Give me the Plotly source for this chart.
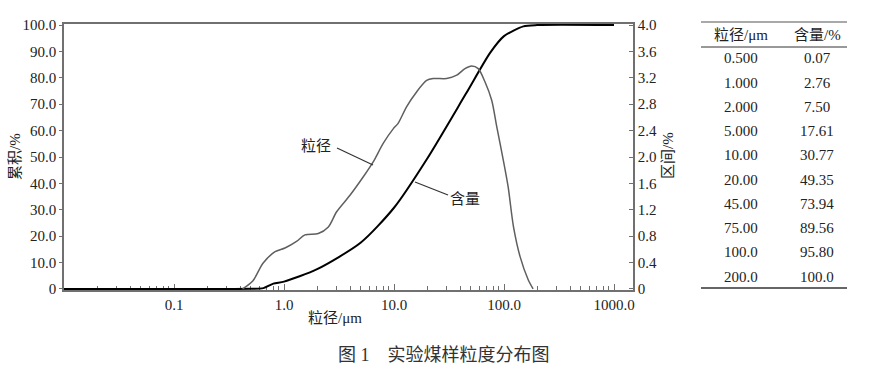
import plotly.graph_objects as go

# ---- data ----
# interval distribution (区间/%, right axis) – gray curve
interval_size = [0.42, 0.52, 0.644, 0.83, 1.02, 1.30, 1.55, 2.05, 2.53, 3.01, 3.98, 5.26,
                 6.49, 8.0, 9.87, 10.9, 13.0, 16.1, 19.8, 22.7, 30.1, 37.2, 44.2, 50.8,
                 58.3, 67.1, 77.3, 85.9, 98.6, 109, 122, 140, 166, 184]
interval_val = [0, 0.12, 0.39, 0.565, 0.62, 0.72, 0.82, 0.84, 0.94, 1.17, 1.42, 1.70,
                1.93, 2.21, 2.43, 2.51, 2.76, 2.99, 3.16, 3.19, 3.19, 3.24, 3.34, 3.38,
                3.34, 3.14, 2.86, 2.46, 1.95, 1.55, 0.94, 0.49, 0.14, 0]

# cumulative content (累积/%, left axis) – black curve
cum_size = [0.01, 0.5, 0.65, 0.8, 1.0, 2.0, 5.0, 10.0, 20.0, 45.0, 75.0, 100.0, 150.0, 200.0, 1000.0]
cum_val = [0, 0.07, 0.3, 2.0, 2.76, 7.5, 17.61, 30.77, 49.35, 73.94, 89.56, 95.8, 99.5, 100.0, 100.0]

# table on the right
table_size = ["0.500", "1.000", "2.000", "5.000", "10.00", "20.00", "45.00", "75.00", "100.0", "200.0"]
table_content = ["0.07", "2.76", "7.50", "17.61", "30.77", "49.35", "73.94", "89.56", "95.80", "100.0"]

x_tickvals = [0.1, 1, 10, 100, 1000]
x_ticktext = ["0.1", "1.0", "10.0", "100.0", "1000.0"]
y_tickvals = [0, 10, 20, 30, 40, 50, 60, 70, 80, 90, 100]
y_ticktext = ["0", "10.0", "20.0", "30.0", "40.0", "50.0", "60.0", "70.0", "80.0", "90.0", "100.0"]
y2_tickvals = [0, 0.4, 0.8, 1.2, 1.6, 2.0, 2.4, 2.8, 3.2, 3.6, 4.0]
y2_ticktext = ["0", "0.4", "0.8", "1.2", "1.6", "2.0", "2.4", "2.8", "3.2", "3.6", "4.0"]

SERIF = "Liberation Serif, Times New Roman, serif"
CJK = "Liberation Serif, Noto Sans CJK SC"
AXC = "#707070"
TXT = "#222222"

# pixel geometry helpers (plot area 64..633 x, 24..290 y)
L, R, T, B = 64, 633, 24, 290
W, H = R - L, B - T


def px(x):
    return (x - L) / W


def py(y):
    return (B - y) / H


minor_vals = [m * 10 ** e for e in range(-2, 3) for m in range(2, 10)]

fig = go.Figure()
fig.add_trace(go.Scatter(x=interval_size, y=interval_val, yaxis="y2", mode="lines",
                         line=dict(color="#5f5f5f", width=1.5, shape="spline", smoothing=0.8),
                         showlegend=False, hoverinfo="skip"))
fig.add_trace(go.Scatter(x=cum_size, y=cum_val, mode="lines",
                         line=dict(color="#000000", width=2, shape="spline", smoothing=0.7),
                         showlegend=False, hoverinfo="skip"))

fig.update_layout(
    width=870, height=371,
    margin=dict(l=L, r=870 - R, t=T, b=371 - B),
    paper_bgcolor="white", plot_bgcolor="white",
    font=dict(family=SERIF, size=15, color=TXT),
    xaxis=dict(type="log", range=[-2, 3.1727], tickvals=x_tickvals, ticktext=x_ticktext,
               ticks="inside", ticklen=6, tickcolor=AXC, tickwidth=1,
               minor=dict(tickvals=minor_vals, ticks="inside", ticklen=4, tickcolor=AXC, tickwidth=1),
               showline=True, linecolor=AXC, linewidth=1.5, mirror=True,
               showgrid=False, zeroline=False, layer="below traces",
               tickfont=dict(family=SERIF, size=15, color=TXT)),
    yaxis=dict(range=[-0.4, 100.4], tickvals=y_tickvals, ticktext=y_ticktext,
               ticks="outside", ticklen=3, tickcolor=AXC,
               showline=True, linecolor=AXC, linewidth=1.5,
               showgrid=False, zeroline=False, layer="below traces",
               tickfont=dict(family=SERIF, size=15, color=TXT)),
    yaxis2=dict(range=[-0.016, 4.016], overlaying="y", side="right",
                tickvals=y2_tickvals, ticktext=y2_ticktext,
                ticks="inside", ticklen=4, tickcolor=AXC,
                showline=True, linecolor=AXC, linewidth=1.5,
                showgrid=False, zeroline=False, layer="below traces",
                tickfont=dict(family=SERIF, size=15, color=TXT)),
)

ann = []
# axis titles
ann.append(dict(text="累积/%", x=px(15), y=py(157), textangle=-90))
ann.append(dict(text="区间/%", x=px(668), y=py(155), textangle=-90))
ann.append(dict(text="粒径/μm", x=px(335), y=py(318)))
# curve labels
ann.append(dict(text="粒径", x=px(316), y=py(146)))
ann.append(dict(text="含量", x=px(465), y=py(199)))
# caption
ann.append(dict(text="图 1　实验煤样粒度分布图", x=px(444), y=py(355),
                font=dict(family=CJK, size=18, color="#333333")))
# table
ann.append(dict(text="粒径/μm", x=px(741), y=py(35)))
ann.append(dict(text="含量/%", x=px(817), y=py(35)))
for i, (s, c) in enumerate(zip(table_size, table_content)):
    yy = 58.3 + i * 24.25
    ann.append(dict(text=s, x=px(741), y=py(yy)))
    ann.append(dict(text=c, x=px(817), y=py(yy)))

for a in ann:
    a.setdefault("font", dict(family=SERIF if not any('\u4e00' <= ch <= '\u9fff' for ch in a["text"]) else CJK,
                              size=15, color=TXT))
    fig.add_annotation(xref="paper", yref="paper", showarrow=False,
                       xanchor="center", yanchor="middle", **a)

shapes = [
    # leader lines
    dict(x0=px(337), y0=py(148), x1=px(373), y1=py(165), line=dict(color="#333333", width=1.2)),
    dict(x0=px(415), y0=py(182), x1=px(448), y1=py(195), line=dict(color="#333333", width=1.2)),
    # table rules
    dict(x0=px(701), y0=py(22), x1=px(847), y1=py(22), line=dict(color="#555555", width=1.2)),
    dict(x0=px(701), y0=py(47), x1=px(847), y1=py(47), line=dict(color="#333333", width=1)),
    dict(x0=px(701), y0=py(288), x1=px(847), y1=py(288), line=dict(color="#333333", width=1.5)),
]
for s in shapes:
    fig.add_shape(type="line", xref="paper", yref="paper", **s)

fig.write_html("out.html", config={"displayModeBar": False},
               post_script="document.body.style.margin='0';document.body.style.overflow='hidden';")
